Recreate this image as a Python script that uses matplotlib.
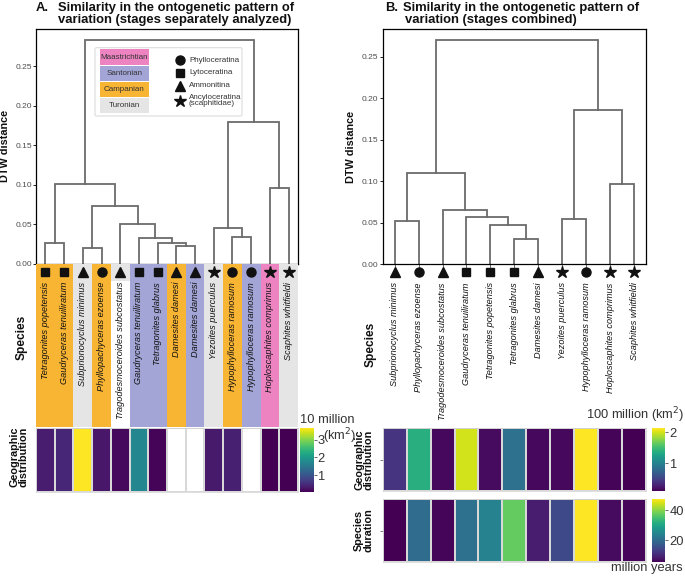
"""Dendrograms of ontogenetic similarity (DTW distance) with geographic / duration heatmaps."""

import numpy as np
import matplotlib
import matplotlib.pyplot as plt
from matplotlib.patches import Rectangle, FancyBboxPatch
from matplotlib.colors import Normalize
from matplotlib.cm import ScalarMappable

plt.rcParams['font.family'] = ['Liberation Sans', 'DejaVu Sans']

W, H = 685, 576

# ---------- panel A: stages separately analyzed ----------
species_a = ["Tetragonites popetensis", "Gaudryceras tenuiliratum", "Subprionocyclus minimus",
             "Phyllopachyceras ezoense", "Tragodesmoceroides subcostatus", "Gaudryceras tenuiliratum",
             "Tetragonites glabrus", "Damesites damesi", "Damesites damesi", "Yezoites puerculus",
             "Hypophylloceras ramosum", "Hypophylloceras ramosum", "Hoploscaphites comprimus",
             "Scaphites whitfieldi"]
stage_a = ["Campanian", "Campanian", "Turonian", "Campanian", "Turonian", "Santonian", "Santonian",
           "Campanian", "Santonian", "Turonian", "Campanian", "Santonian", "Maastrichtian", "Turonian"]
suborder_a = ["Lytoceratina", "Lytoceratina", "Ammonitina", "Phylloceratina", "Ammonitina",
              "Lytoceratina", "Lytoceratina", "Ammonitina", "Ammonitina", "Ancyloceratina",
              "Phylloceratina", "Phylloceratina", "Ancyloceratina", "Ancyloceratina"]
# geographic distribution, 10 million km2 (nan = no data)
geo_a = [0.36, 0.46, 3.65, 0.28, 0.14, 1.72, 0.10, np.nan, np.nan, 0.32, 0.39, np.nan, 0.07, 0.07]
# merge tree: (height, left, right); ints are leaf positions
tree_a = (0.2825,
          (0.1008, (0.026, 0, 1),
                   (0.073, (0.0198, 2, 3),
                           (0.050, 4, (0.033, 5, (0.0266, 6, (0.0228, 7, 8)))))),
          (0.1796, (0.046, 9, (0.0346, 10, 11)), (0.0957, 12, 13)))

# ---------- panel B: stages combined ----------
species_b = ["Subprionocyclus minimus", "Phyllopachyceras ezoense", "Tragodesmoceroides subcostatus",
             "Gaudryceras tenuiliratum", "Tetragonites popetensis", "Tetragonites glabrus",
             "Damesites damesi", "Yezoites puerculus", "Hypophylloceras ramosum",
             "Hoploscaphites comprimus", "Scaphites whitfieldi"]
suborder_b = ["Ammonitina", "Phylloceratina", "Ammonitina", "Lytoceratina", "Lytoceratina",
              "Lytoceratina", "Ammonitina", "Ancyloceratina", "Phylloceratina", "Ancyloceratina",
              "Ancyloceratina"]
geo_b = [0.41, 1.38, 0.15, 1.98, 0.17, 0.85, 0.15, 0.15, 2.12, 0.13, 0.11]   # 100 million km2
dur_b = [5.5, 20.1, 6.0, 21.0, 23.9, 37.3, 8.8, 14.7, 47.3, 6.8, 6.3]        # million years
tree_b = (0.2693,
          (0.110, (0.0522, 0, 1),
                  (0.065, 2, (0.0566, 3, (0.0474, 4, (0.0301, 5, 6))))),
          (0.1854, (0.0546, 7, 8), (0.0963, 9, 10)))

stages = ["Maastrichtian", "Santonian", "Campanian", "Turonian"]
stage_colors = {"Maastrichtian": "#EE83C2", "Santonian": "#A3A5D6",
                "Campanian": "#F8B433", "Turonian": "#E5E5E5"}
suborders = ["Phylloceratina", "Lytoceratina", "Ammonitina", "Ancyloceratina"]
suborder_labels = ["Phylloceratina", "Lytoceratina", "Ammonitina", "Ancyloceratina\n(scaphitidae)"]
shapes = {"Phylloceratina": ("o", 6.5), "Lytoceratina": ("s", 6.0),
          "Ammonitina": ("^", 6.5), "Ancyloceratina": ("*", 9.0)}

LINE = "#6b6b6b"
TXT = "#333333"
FS = 9.3


def box(l, t, r, b):
    """pixel box -> figure fraction rect"""
    return [l / W, 1 - b / H, (r - l) / W, (b - t) / H]


def draw_tree(ax, node):
    if isinstance(node, int):
        return node, 0.0
    h, left, right = node
    xl, hl = draw_tree(ax, left)
    xr, hr = draw_tree(ax, right)
    ax.plot([xl, xl, xr, xr], [hl, h, h, hr], color=LINE, lw=1.3, solid_joinstyle="miter")
    return (xl + xr) / 2, h


def dendro_axes(rect, tree, n, top):
    ax = fig.add_axes(rect)
    draw_tree(ax, tree)
    ax.set_xlim(-0.5, n - 0.5)
    ax.set_ylim(0, top)
    ax.set_yticks([0, 0.05, 0.10, 0.15, 0.20, 0.25])
    ax.set_yticklabels(["0.00", "0.05", "0.10", "0.15", "0.20", "0.25"])
    ax.set_xticks(range(n))
    ax.set_xticklabels([])
    ax.tick_params(axis="y", labelsize=6.0, labelcolor="#4d4d4d", length=2, width=0.6, pad=1)
    ax.tick_params(axis="x", length=3, width=0.6, color="#4d4d4d")
    for s in ax.spines.values():
        s.set_linewidth(0.9)
    return ax


def label_axes(rect, names, subs, fills=None):
    ax = fig.add_axes(rect)
    n = len(names)
    ax.set_xlim(-0.5, n - 0.5)
    ax.set_ylim(163, 0)
    ax.axis("off")
    for i in range(n):
        if fills is not None:
            # the long Tragodesmoceroides label has no stage fill below its marker
            hgt = 17 if len(names[i]) > 28 else 163
            ax.add_patch(Rectangle((i - 0.5, 0), 1, hgt, color=fills[i], lw=0))
        m, ms = shapes[subs[i]]
        ax.plot(i, 8, marker=m, ms=ms, color="#111111", mec="#111111")
        ax.text(i, 18, names[i], rotation=90, ha="center", va="top", style="italic",
                fontsize=6.6, color="#111111")
    return ax


def heat_axes(rect, vals, tick=False):
    ax = fig.add_axes(rect)
    vals = np.ma.masked_invalid(np.array(vals, dtype=float))
    n = len(vals)
    norm = Normalize(vals.min(), vals.max())
    ax.pcolormesh(np.arange(n + 1) - 0.5, [0, 1], vals[None, :], cmap="viridis", norm=norm,
                  edgecolors="#d8d8d8", linewidth=0.3)
    ax.set_xlim(-0.5, n - 0.5)
    ax.set_ylim(0, 1)
    ax.set_xticks([])
    if tick:
        ax.set_yticks([0.5])
        ax.set_yticklabels([])
        ax.tick_params(axis="y", length=2, width=0.5, color="#4d4d4d")
    else:
        ax.set_yticks([])
    for s in ax.spines.values():
        s.set_color("#d0d0d0")
        s.set_linewidth(0.5)
    return norm


def colorbar(rect, norm, ticks):
    cax = fig.add_axes(rect)
    cb = fig.colorbar(ScalarMappable(norm=norm, cmap="viridis"), cax=cax)
    cb.outline.set_visible(False)
    cb.set_ticks(ticks)
    cax.tick_params(labelsize=FS, length=2, width=0.6, color="#4d4d4d", labelcolor=TXT, pad=1)
    return cb


fig = plt.figure(figsize=(W / 100, H / 100), dpi=100)

# ----- panel A -----
axA = dendro_axes(box(36, 29.3, 298, 264), tree_a, len(species_a), 0.2825 * 1.05)
tile_fill = [stage_colors[s] for s in stage_a]
axLA = label_axes(box(36, 264, 298, 427), species_a, suborder_a, tile_fill)
normA = heat_axes(box(36, 428, 298, 492), geo_a)
colorbar(box(300, 428, 313.5, 492), normA, [1, 2, 3])

# ----- panel B -----
axB = dendro_axes(box(382.7, 29.3, 646, 264.3), tree_b, len(species_b), 0.2693 * 1.05)
label_axes(box(382.7, 264.3, 646, 427), species_b, suborder_b)
normG = heat_axes(box(382.7, 428.3, 646, 491), geo_b, tick=True)
colorbar(box(651.7, 428.3, 665.5, 491), normG, [1, 2])
normD = heat_axes(box(382.7, 499, 646, 562.3), dur_b, tick=True)
colorbar(box(651.7, 499, 665.5, 562.3), normD, [20, 40])

# ----- overlay for titles, axis names, legend -----
ov = fig.add_axes([0, 0, 1, 1], zorder=10)
ov.set_xlim(0, W)
ov.set_ylim(H, 0)
ov.axis("off")
ov.patch.set_alpha(0)

tkw = dict(fontsize=9.4, fontweight="bold", va="center", ha="left", color="#111111")
ov.text(36, 8, "A.", **tkw)
ov.text(58, 8, "Similarity in the ontogenetic pattern of", **tkw)
ov.text(58, 19.5, "variation (stages separately analyzed)", **tkw)
ov.text(385, 8, "B.", **tkw)
ov.text(403.5, 8, "Similarity in the ontogenetic pattern of", **tkw)
ov.text(405, 19.5, "variation (stages combined)", **tkw)

lkw = dict(fontsize=7.8, fontweight="bold", rotation=90, ha="center", va="center", color="#111111")
ov.text(5.5, 146, "DTW distance", **lkw)
ov.text(351.5, 147, "DTW distance", **lkw)
ov.text(21.5, 337, "Species", fontsize=8.6, **{k: v for k, v in lkw.items() if k != "fontsize"})
ov.text(371, 344, "Species", fontsize=8.6, **{k: v for k, v in lkw.items() if k != "fontsize"})
ov.text(19, 457, "Geographic\ndistribution", linespacing=0.95, **lkw)
ov.text(364, 460, "Geographic\ndistribution", linespacing=0.95, **lkw)
ov.text(364, 530, "Species\nduration", linespacing=0.95, **lkw)

ov.text(300, 420, "10 million", fontsize=FS, ha="left", va="center", color=TXT)
ov.text(323.5, 436, "(km$^2$)", fontsize=FS, ha="left", va="center", color=TXT)
ov.text(684, 415, "100 million (km$^2$)", fontsize=FS, ha="right", va="center", color=TXT)
ov.text(683, 568, "million years", fontsize=FS, ha="right", va="center", color=TXT)

# legend in panel A
ov.add_patch(FancyBboxPatch((95, 47.7), 147, 68.3, boxstyle="round,pad=0,rounding_size=1.5",
                            fc="white", ec="#dcdcdc", lw=0.8))
for i, st in enumerate(stages):
    top = 49.3 + i * 16.2
    ov.add_patch(Rectangle((100, top), 49, 15.6, color=stage_colors[st], lw=0))
    ov.text(124.5, top + 7.8, st, fontsize=5.8, ha="center", va="center", color=TXT)
for i, (so, lab) in enumerate(zip(suborders, suborder_labels)):
    y = [60, 72.7, 85.7, 100.5][i]
    m, ms = shapes[so]
    ov.plot(180, y, marker=m, ms=ms, color="#111111")
    ov.text(189, y, lab, fontsize=5.8, ha="left", va="center", color=TXT, linespacing=0.95)

fig.savefig("out.png", dpi=100)
